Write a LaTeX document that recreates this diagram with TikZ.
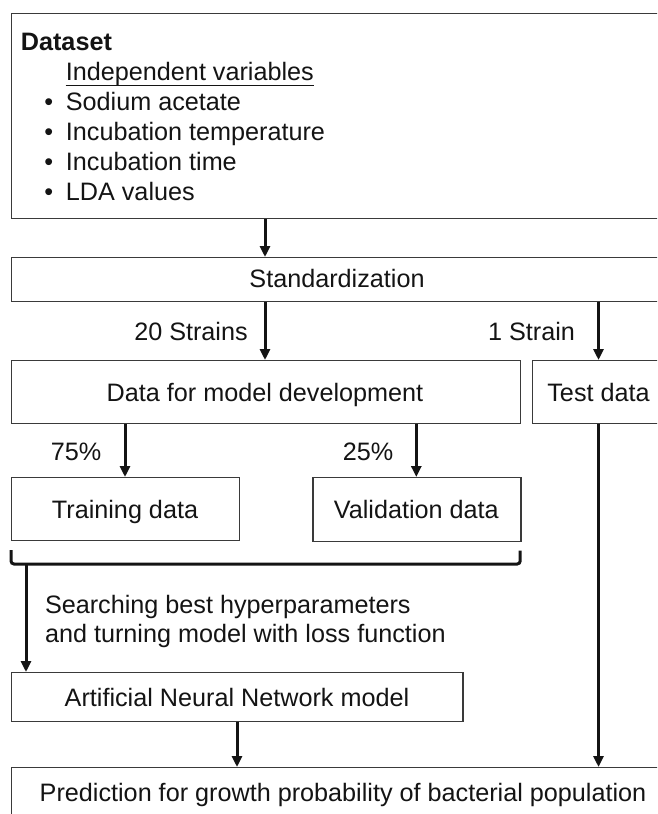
\documentclass[tikz,border=0pt]{standalone}
\usepackage{fontspec}
\setmainfont{Liberation Sans}
\usetikzlibrary{arrows.meta,calc}
\definecolor{boxline}{HTML}{3A3A3A}
\definecolor{ink}{HTML}{141414}
\tikzset{
  box/.style={draw=boxline, line width=1.2pt, rectangle, anchor=north west, inner sep=0pt},
  lbl/.style={font=\fontsize{25.2}{30}\selectfont, text=ink, inner sep=0pt, anchor=base},
  lblw/.style={lbl, anchor=base west},
  arr/.style={draw=ink, line width=3pt, -{Triangle[length=11pt,width=10pt]}},
  bracket/.style={draw=ink, line width=3pt, rounded corners=3pt}
}
\begin{document}
\begin{tikzpicture}[x=1pt,y=-1pt]
\useasboundingbox (0,0) rectangle (657,814);
\fill[white] (0,0) rectangle (657,814);
\clip (0,0) rectangle (657,814);

% boxes (the wide ones run past the right edge)
\node[box, minimum width=700pt, minimum height=205.3pt] (dset) at (10.7,12.7) {};
\node[box, minimum width=700pt, minimum height=44pt] (std) at (10.7,257) {};
\node[box, minimum width=508.8pt, minimum height=63pt] (dev) at (10.7,360) {};
\node[box, minimum width=200pt, minimum height=63pt] (test) at (531.7,360) {};
\node[box, minimum width=228.3pt, minimum height=63pt] (train) at (10.7,477) {};
\node[box, minimum width=208pt, minimum height=63.5pt] (valid) at (312.3,477) {};
\node[box, minimum width=451.6pt, minimum height=48.7pt] (ann) at (10.7,672) {};
\node[box, minimum width=700pt, minimum height=100pt] (pred) at (10.7,767) {};

% dataset contents
\node[lblw] (tdata) at (20.7,50) {\bfseries Dataset};
\node[lblw] (tiv) at (65.7,80) {Independent variables};
\draw[draw=ink, line width=1pt] ($(tiv.base west)+(0,5)$) -- ($(tiv.base east)+(0,5)$);
\node[lbl] (b1) at (48.7,110) {•};
\node[lbl] (b2) at (48.7,140) {•};
\node[lbl] (b3) at (48.7,170) {•};
\node[lbl] (b4) at (48.7,200) {•};
\node[lblw] (v1) at (65.7,110) {Sodium acetate};
\node[lblw] (v2) at (65.7,140) {Incubation temperature};
\node[lblw] (v3) at (65.7,170) {Incubation time};
\node[lblw] (v4) at (65.7,200) {LDA values};

% labels
\node[lbl] (tstd) at (337,287.3) {Standardization};
\node[lbl] (t20) at (191,340) {20 Strains};
\node[lbl] (t1) at (531.5,340) {1 Strain};
\node[lbl] (tdev) at (265,401.7) {Data for model development};
\node[lbl] (ttest) at (598.5,401) {Test data};
\node[lbl] (t75) at (76,460.7) {75\%};
\node[lbl] (t25) at (368,460.7) {25\%};
\node[lbl] (ttrain) at (125,518) {Training data};
\node[lbl] (tvalid) at (416.3,518) {Validation data};
\node[lblw] (ts1) at (44.8,613) {Searching best hyperparameters};
\node[lblw] (ts2) at (44.8,642) {and turning model with loss function};
\node[lbl] (tann) at (237,706) {Artificial Neural Network model};
\node[lbl] (tpred) at (343,801.7) {Prediction for growth probability of bacterial population};

% connectors
\draw[arr] (tdev |- dset.south) -- (tdev |- std.north);
\draw[arr] (tdev |- std.south) -- (tdev |- dev.north);
\draw[arr] (ttest |- std.south) -- (ttest |- test.north);
\draw[arr] (ttrain |- dev.south) -- (ttrain |- train.north);
\draw[arr] (tvalid |- dev.south) -- (tvalid |- valid.north);
\draw[arr] (ttest |- test.south) -- (ttest |- pred.north);
\draw[arr] (tann |- ann.south) -- (tann |- pred.north);

% bracket grouping training and validation data
\coordinate (bl) at ($(train.south west)+(0.3,9)$);
\coordinate (br) at ($(valid.south east)+(-1.3,9)$);
\coordinate (bdrop) at (26,564);
\draw[bracket] (bl) -- (bl |- bdrop) -- (br |- bdrop) -- (br);
\draw[arr] (bdrop) -- (bdrop |- ann.north);
\end{tikzpicture}
\end{document}
